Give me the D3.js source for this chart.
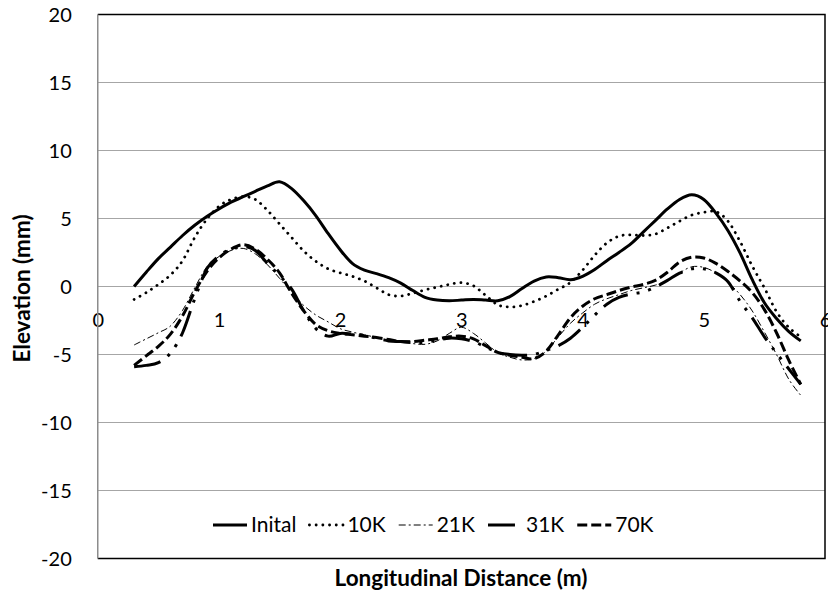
<!DOCTYPE html>
<html>
<head>
<meta charset="utf-8">
<script src="https://cdn.jsdelivr.net/npm/d3@7"></script>
<style>
  body { margin: 0; background: #fff; }
  svg { display: block; }
  text { font-family: Lato, "Open Sans", sans-serif; fill: #000; }
</style>
</head>
<body>
<svg id="chart" width="828" height="592"></svg>
<script>
// Longitudinal distance along the profile (m)
const distance = [0.3,0.4,0.5,0.6,0.7,0.8,0.9,1.0,1.1,1.2,1.3,1.4,1.5,1.6,1.7,1.8,1.9,2.0,2.1,2.2,
  2.3,2.4,2.5,2.6,2.7,2.8,2.9,3.0,3.1,3.2,3.3,3.4,3.5,3.6,3.7,3.8,3.9,4.0,4.1,4.2,
  4.3,4.4,4.5,4.6,4.7,4.8,4.9,5.0,5.1,5.2,5.3,5.4,5.5,5.6,5.7,5.8];

// Surface elevation (mm) for each load count
const inital = [0.0,1.05,2.05,2.9,3.75,4.5,5.15,5.7,6.2,6.6,7.0,7.4,7.7,7.2,6.3,5.2,3.9,2.7,1.7,1.2,
  0.95,0.65,0.25,-0.3,-0.8,-1.0,-1.05,-1.0,-0.95,-1.0,-1.05,-0.75,-0.15,0.4,0.7,0.65,0.5,0.75,1.25,1.9,
  2.5,3.15,4.0,4.85,5.7,6.4,6.75,6.4,5.4,4.1,2.45,0.5,-1.2,-2.35,-3.3,-4.0];
const k10 = [-0.95,-0.45,0.15,0.85,1.9,3.6,4.95,5.9,6.4,6.6,6.4,5.6,4.6,3.6,2.6,1.85,1.3,1.0,0.75,0.4,
  -0.1,-0.6,-0.7,-0.5,-0.25,-0.05,0.15,0.28,0.05,-0.65,-1.35,-1.5,-1.4,-1.1,-0.7,-0.2,0.3,1.2,2.3,3.2,
  3.7,3.8,3.75,3.85,4.3,4.8,5.25,5.45,5.5,4.8,3.3,1.5,-0.1,-1.85,-3.0,-3.7];
const k21 = [-4.3,-3.85,-3.4,-2.9,-1.75,-0.1,1.45,2.2,2.65,2.8,2.4,1.6,0.6,-0.45,-1.4,-2.1,-2.6,-3.1,-3.35,-3.55,
  -3.75,-3.95,-4.1,-4.2,-4.25,-4.0,-3.45,-3.0,-3.45,-4.15,-4.85,-5.2,-5.4,-5.3,-4.75,-3.7,-2.7,-1.95,-1.3,-0.9,
  -0.6,-0.3,-0.1,0.1,0.45,1.0,1.45,1.4,1.0,0.3,-0.6,-1.8,-3.35,-5.0,-6.8,-8.0];
const k31 = [-5.9,-5.8,-5.6,-4.9,-3.4,-0.9,1.3,2.25,2.75,2.95,2.65,1.7,0.8,-0.2,-1.8,-3.1,-3.65,-3.45,-3.5,-3.6,
  -3.8,-4.0,-4.05,-4.1,-4.1,-3.95,-3.8,-3.85,-4.05,-4.45,-4.85,-5.0,-5.05,-5.0,-4.7,-4.35,-3.8,-3.0,-2.1,-1.3,
  -0.8,-0.55,-0.4,-0.05,0.45,0.98,1.3,1.3,1.0,0.35,-1.1,-2.3,-3.7,-4.9,-6.05,-7.2];
const k70 = [-5.8,-5.1,-4.4,-3.5,-2.15,-0.4,1.1,2.1,2.75,3.07,2.75,2.0,1.0,-0.5,-1.8,-2.8,-3.25,-3.45,-3.55,-3.65,
  -3.75,-3.9,-4.05,-4.05,-3.95,-3.85,-3.7,-3.65,-3.85,-4.35,-4.85,-5.05,-5.2,-5.3,-4.75,-3.55,-2.3,-1.45,-0.9,-0.6,
  -0.3,-0.05,0.15,0.45,1.05,1.8,2.15,2.1,1.7,1.1,0.4,-0.45,-1.7,-3.4,-5.4,-7.2];

const seriesNames = ["Inital", "10K", "21K", "31K", "70K"];
const seriesValues = [inital, k10, k21, k31, k70];

const xTicks = [0, 1, 2, 3, 4, 5, 6];
const yTicks = [-20, -15, -10, -5, 0, 5, 10, 15, 20];

// Line styles, one per series
const lineStyles = [
  { width: 3,   dash: null,               cap: "butt" },
  { width: 2.8, dash: "0.1 6.6",          cap: "round" },
  { width: 1,   dash: "7 3 2 3",          cap: "butt" },
  { width: 3,   dash: "27 9 3 9 3 9",     cap: "butt" },
  { width: 3,   dash: "10 4",             cap: "butt" }
];

const svg = d3.select("#chart");
const plotLeft = 97.75, plotRight = 825, plotTop = 14.5, plotBottom = 558.5;

const x = d3.scaleLinear().domain([0, 6]).range([plotLeft, plotRight]);
const y = d3.scaleLinear().domain([-20, 20]).range([plotBottom, plotTop]);

// Plain hyphen-minus for negative tick values
const plainNumber = d => String(d);

// Horizontal gridlines
svg.append("g")
  .selectAll("line")
  .data(yTicks.filter(t => t > -20 && t < 20))
  .join("line")
  .attr("x1", plotLeft).attr("x2", plotRight)
  .attr("y1", d => y(d)).attr("y2", d => y(d))
  .attr("stroke", "#a6a6a6").attr("stroke-width", 1);

// Y axis labels (left of the plot)
const yAxis = d3.axisLeft(y).tickValues(yTicks).tickSize(0).tickPadding(0).tickFormat(plainNumber);
const yg = svg.append("g").attr("transform", `translate(${plotLeft - 26},0)`).call(yAxis);
yg.select(".domain").remove();
yg.selectAll("text").attr("font-size", 20).attr("font-family", "Lato, sans-serif").attr("fill", "#000").attr("dy", "0.35em");

// X axis labels, placed below the zero line
const xAxis = d3.axisBottom(x).tickValues(xTicks).tickSize(0).tickPadding(0).tickFormat(plainNumber);
const xg = svg.append("g").attr("transform", `translate(0,${y(0)})`).call(xAxis);
xg.select(".domain").remove();
xg.selectAll("text").attr("font-size", 20).attr("font-family", "Lato, sans-serif").attr("fill", "#000")
  .attr("y", 33).attr("dy", "0.35em");

// Series lines (smoothed)
const line = d3.line()
  .x((d, i) => x(distance[i]))
  .y(d => y(d))
  .curve(d3.curveCardinal.tension(0));

const plot = svg.append("g");
seriesValues.forEach((vals, si) => {
  const st = lineStyles[si];
  plot.append("path")
    .datum(vals)
    .attr("d", line)
    .attr("fill", "none")
    .attr("stroke", "#000")
    .attr("stroke-width", st.width)
    .attr("stroke-linecap", st.cap)
    .attr("stroke-linejoin", "round")
    .attr("stroke-dasharray", st.dash);
});

// Plot frame: grey value axis on the left, dark border elsewhere
svg.append("path")
  .attr("d", `M${plotLeft},${plotTop}H${plotRight}V${plotBottom}H${plotLeft}`)
  .attr("fill", "none").attr("stroke", "#000").attr("stroke-width", 1.5);
svg.append("line")
  .attr("x1", plotLeft).attr("x2", plotLeft).attr("y1", plotTop).attr("y2", plotBottom)
  .attr("stroke", "#8c8c8c").attr("stroke-width", 1.5);

// Legend
const legend = svg.append("g").attr("transform", "translate(213,525)");
let lx = 0;
seriesNames.forEach((name, si) => {
  const st = lineStyles[si];
  legend.append("line")
    .attr("x1", lx).attr("x2", lx + 34).attr("y1", 0).attr("y2", 0)
    .attr("stroke", "#000")
    .attr("stroke-width", st.width)
    .attr("stroke-linecap", st.cap)
    .attr("stroke-dasharray", st.dash);
  const t = legend.append("text")
    .attr("x", lx + 38).attr("y", 0).attr("dy", "0.35em")
    .attr("font-size", 21)
    .text(name);
  lx += 38 + t.node().getComputedTextLength() + 13;
});

// Axis titles
svg.append("text")
  .attr("x", 461).attr("y", 578).attr("dy", "0.35em")
  .attr("text-anchor", "middle").attr("font-weight", "bold").attr("font-size", 22.5)
  .text("Longitudinal Distance (m)");
svg.append("text")
  .attr("transform", `translate(22,${y(0) + 2}) rotate(-90)`)
  .attr("dy", "0.35em")
  .attr("text-anchor", "middle").attr("font-weight", "bold").attr("font-size", 22.5)
  .text("Elevation (mm)");
</script>
</body>
</html>
